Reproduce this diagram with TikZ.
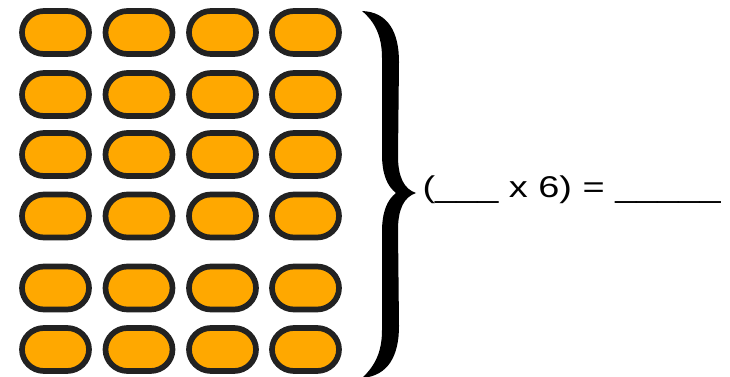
\documentclass[tikz,border=0pt]{standalone}
\usepackage{fontspec}
\setmainfont{Liberation Sans}
\definecolor{pillfill}{HTML}{FFA800}
\definecolor{pillline}{HTML}{222222}
\tikzset{
  pill/.pic={
    \filldraw[fill=pillfill,draw=pillline,line width=5.7pt]
      (-11.5,-21.5) -- (11.5,-21.5)
      .. controls (23.65,-21.5) and (33.5,-11.87) .. (33.5,0)
      .. controls (33.5,11.87) and (23.65,21.5) .. (11.5,21.5)
      -- (-11.5,21.5)
      .. controls (-23.65,21.5) and (-33.5,11.87) .. (-33.5,0)
      .. controls (-33.5,-11.87) and (-23.65,-21.5) .. (-11.5,-21.5) -- cycle;
  },
  eqtext/.style={inner sep=0pt, anchor=base west, font=\fontsize{30}{36}\selectfont},
  bracefill/.style={fill=black, draw=none}
}
\begin{document}
\begin{tikzpicture}[x=1pt,y=-1pt]
\useasboundingbox (0,0) rectangle (730,377);
\foreach \cx [count=\i] in {55.5,139,222.5,305.5}{
  \foreach \cy [count=\j] in {32.5,94.5,154.5,216,288,349.5}{
    \pic (p\i\j) at (\cx,\cy) {pill};
  }
}
% brace
\fill[bracefill] (362,11) .. controls (388,12) and (399,32) .. (399,62)
  -- (398,156) .. controls (398,177) and (404,189) .. (416,193)
  .. controls (404,197) and (398,209) .. (398,230)
  -- (399,326) .. controls (399,356) and (388,376) .. (362,378)
  .. controls (375,366) and (382,352) .. (382,330)
  -- (382,232) .. controls (382,212) and (387,200) .. (396,193)
  .. controls (387,186) and (382,174) .. (382,154)
  -- (382,58) .. controls (382,36) and (375,22) .. (362,11) -- cycle;
\node[eqtext] (eq) at (422.4,197.5) {\scalebox{1.263}[1]{(\_\_\_ x 6) = \_\_\_\_\_}};
\end{tikzpicture}
\end{document}
